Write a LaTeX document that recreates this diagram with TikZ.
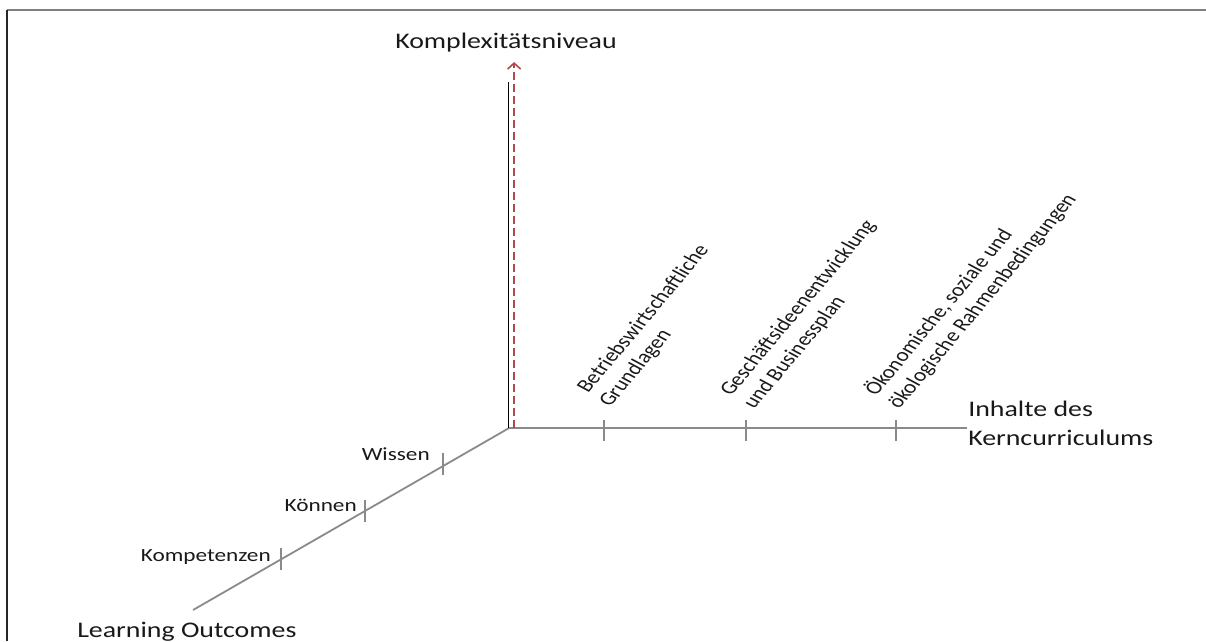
\documentclass[tikz,border=0pt]{standalone}
\usepackage{fontspec}
\setmainfont{Carlito}
\usetikzlibrary{arrows.meta}
\definecolor{axisgray}{HTML}{8A8A8A}
\definecolor{framegray}{HTML}{7F7F7F}
\definecolor{darkred}{HTML}{B04A4C}
\tikzset{
  axisline/.style={draw=axisgray, line width=1.8pt},
  tickmark/.style={draw=axisgray, line width=1.8pt},
  smalllbl/.style={inner sep=0pt, font=\fontsize{18.6}{22.5}\selectfont, text=black!90},
  biglbl/.style={inner sep=0pt, font=\fontsize{22.3}{29}\selectfont, text=black!90},
  rotlbl/.style={smalllbl, anchor=base west, rotate=56},
}
\begin{document}
\begin{tikzpicture}[x=0.8pt, y=-1pt, xscale=1.25, transform shape]
\useasboundingbox (0,0) rectangle (1206,641);
% frame
\draw[framegray, line width=1.5pt] (7,10) -- (1206,10);
\draw[black!85, line width=1.5pt] (7,10) -- (7,641);

% coordinates
\coordinate (O) at (509,428);
\coordinate (xend) at (967,428);
\coordinate (dend) at (193,610);
\coordinate (vtop) at (508,82);
\coordinate (vbot) at (508,428);
\coordinate (rbot) at (514,428);
\coordinate (rtop) at (514,62);
\coordinate (t1) at (604,428);
\coordinate (t2) at (746,428);
\coordinate (t3) at (896,428);
\coordinate (w) at (443,464);
\coordinate (k) at (365,511);
\coordinate (c) at (281,559);

% axes
\draw[axisline] (O) -- (xend);
\draw[axisline] (O) -- (dend);
\draw[black, line width=1.1pt] (vbot) -- (vtop);
\draw[darkred, line width=1.6pt, dash pattern=on 8pt off 4pt,
      -{Straight Barb[length=6pt, width=13pt, line width=1.6pt]}] (rbot) -- (rtop);

% ticks
\foreach \t in {t1,t2,t3}{
  \draw[tickmark] ([yshift=-13pt]\t) -- ([yshift=8pt]\t);
}
\foreach \t in {w,k,c}{
  \draw[tickmark] ([yshift=11pt]\t) -- ([yshift=-11pt]\t);
}

% labels
\node[biglbl, anchor=base] (ky) at (506,48) {Komplexitätsniveau};
\node[biglbl, anchor=base west] (ix1) at (968,416) {Inhalte des};
\node[biglbl, anchor=base west] (ix2) at (968,445) {Kerncurriculums};
\node[biglbl, anchor=base west] (lo) at (77,637) {Learning Outcomes};

\node[smalllbl, anchor=base east] (lw) at (430,460) {Wissen};
\node[smalllbl, anchor=base east] (lk) at (357,511) {Können};
\node[smalllbl, anchor=base east] (lc) at (271,561) {Kompetenzen};

\node[rotlbl] (a1) at (588,394) {Betriebswirtschaftliche};
\node[rotlbl] (a2) at (610,408) {Grundlagen};
\node[rotlbl] (b1) at (731,397) {Geschäftsideenentwicklung};
\node[rotlbl] (b2) at (754,410) {und Businessplan};
\node[rotlbl] (c1) at (876,397) {Ökonomische, soziale und};
\node[rotlbl] (c2) at (899,410) {ökologische Rahmenbedingungen};
\end{tikzpicture}
\end{document}
